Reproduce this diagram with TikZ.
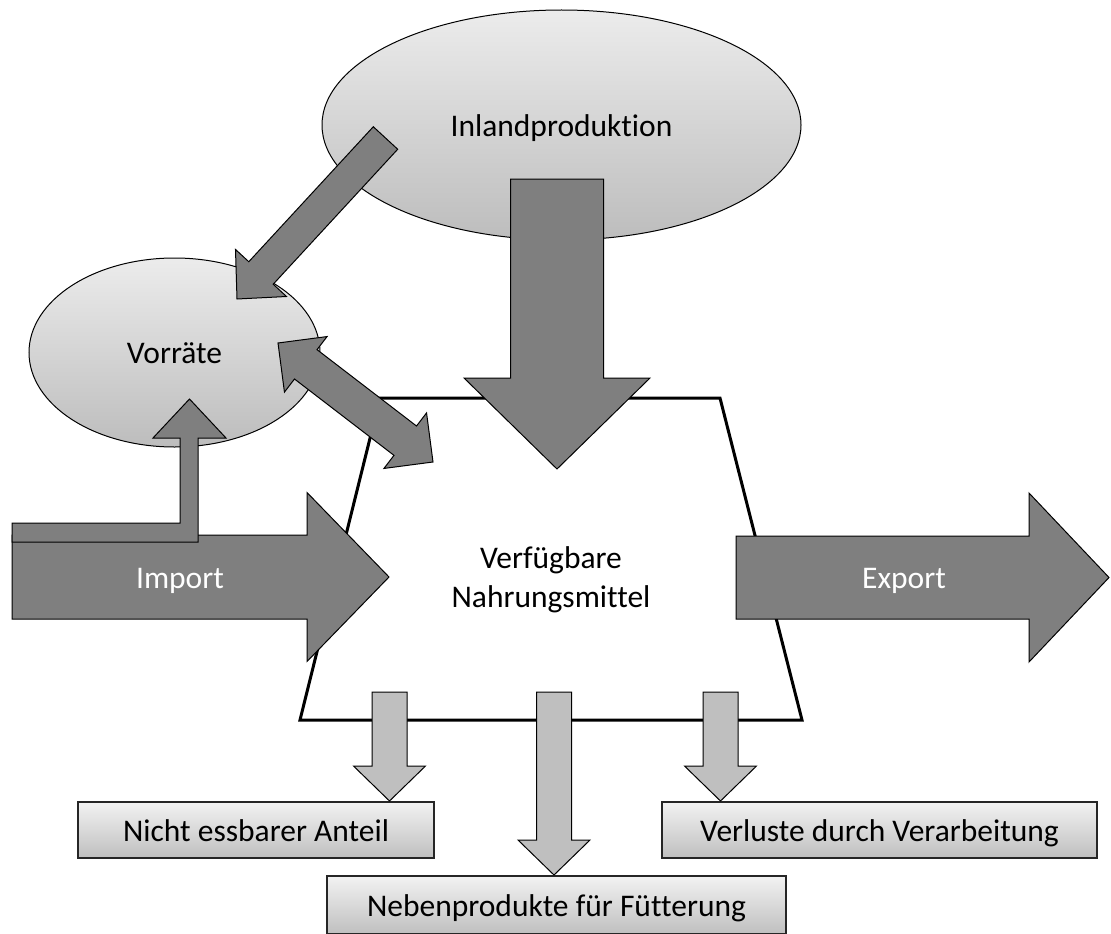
\documentclass[tikz,border=0pt]{standalone}
\usepackage{fontspec}
\setmainfont{Carlito}[Ligatures=NoCommon]
\usetikzlibrary{calc, shapes.geometric}

\definecolor{flowgray}{HTML}{7F7F7F}
\definecolor{lossgray}{HTML}{BFBFBF}

% block arrow: [style]{from}{to}{half shaft}{half head}{head length}
\newcommand{\blockarrow}[6][]{%
  \path ($(#3)!#6!(#2)$) coordinate (ba);
  \filldraw[#1] ($(#2)!#4!90:(#3)$) -- ($(ba)!#4!90:(#3)$) -- ($(ba)!#5!90:(#3)$) -- (#3)
    -- ($(ba)!#5!-90:(#3)$) -- ($(ba)!#4!-90:(#3)$) -- ($(#2)!#4!-90:(#3)$) -- cycle;}
\newcommand{\dblockarrow}[6][]{%
  \path ($(#3)!#6!(#2)$) coordinate (ba) ($(#2)!#6!(#3)$) coordinate (bb);
  \filldraw[#1] (#2) -- ($(bb)!#5!90:(#3)$) -- ($(bb)!#4!90:(#3)$) -- ($(ba)!#4!90:(#3)$)
    -- ($(ba)!#5!90:(#3)$) -- (#3) -- ($(ba)!#5!-90:(#3)$) -- ($(ba)!#4!-90:(#3)$)
    -- ($(bb)!#4!-90:(#3)$) -- ($(bb)!#5!-90:(#3)$) -- cycle;}

\begin{document}
\begin{tikzpicture}[x=1pt, y=-1pt,
  every node/.style={font=\fontsize{31.5}{39}\selectfont, inner sep=0pt},
  source/.style={ellipse, draw, line width=1pt, top color=gray!15, bottom color=gray!52,
    text height=22pt, text depth=0pt},
  sinkbox/.style={draw=black!85, line width=1.2pt, top color=gray!10, bottom color=gray!50,
    minimum height=56pt, text height=22pt, text depth=0pt},
  flow/.style={draw, line width=1pt, fill=flowgray},
  loss/.style={draw, line width=1pt, fill=lossgray}]
  \useasboundingbox (0,0) rectangle (1111,934);

  \draw[line width=3pt] (380,398) -- (720,398) -- (802,720) -- (300,720) -- cycle;
  \node[align=center] (pool) at (551,580) {Verfügbare\\Nahrungsmittel};

  \node[source, minimum width=479pt, minimum height=230pt] (inland) at (561.5,125) {Inlandproduktion};
  \node[source, minimum width=291pt, minimum height=189pt] (vorraete) at (174.5,352.5) {Vorräte};

  \node[sinkbox, minimum width=356pt] (inedible) at (256,830) {Nicht essbarer Anteil};
  \node[sinkbox, minimum width=459pt, minimum height=58pt] (feed) at (556.5,905) {Nebenprodukte für Fütterung};
  \node[sinkbox, minimum width=435pt] (processing) at (879.5,830) {Verluste durch Verarbeitung};

  \coordinate (inland-a) at (385.5,138);
  \coordinate (vorraete-a) at (237,299);
  \coordinate (inland-b) at (557,179);
  \coordinate (pool-b) at (557,469);
  \coordinate (vorraete-c) at (278,343);
  \coordinate (pool-c) at (433,462);
  \coordinate (import-s) at (12,577);
  \coordinate (pool-i) at (389,577);
  \coordinate (pool-e) at (736,577.5);
  \coordinate (export-e) at (1109,577.5);

  \blockarrow[flow]{inland-a}{vorraete-a}{16.6pt}{34.7pt}{35.4pt}
  \blockarrow[flow]{inland-b}{pool-b}{46.5pt}{93pt}{91pt}
  \dblockarrow[flow]{vorraete-c}{pool-c}{18.5pt}{35pt}{35pt}
  \blockarrow[flow]{import-s}{pool-i}{42pt}{84.5pt}{82pt}
  \filldraw[flow] (12,523) -- (180,523) -- (180,438) -- (153,438) -- (189.5,399)
    -- (226,438) -- (198,438) -- (198,542) -- (12,542) -- cycle;
  \blockarrow[flow]{pool-e}{export-e}{41.5pt}{84.5pt}{80pt}

  \foreach \n/\x/\y in {a/389.5/801, b/554/875, c/720.5/801} {
    \coordinate (top-\n) at (\x,692);
    \coordinate (tip-\n) at (\x,\y);
    \blockarrow[loss]{top-\n}{tip-\n}{17.5pt}{36pt}{35pt}
  }

  \node[text=white, text height=22pt, text depth=0pt] (import) at (180,577) {Import};
  \node[text=white, text height=22pt, text depth=0pt] (export) at (904,577) {Export};
\end{tikzpicture}
\end{document}
